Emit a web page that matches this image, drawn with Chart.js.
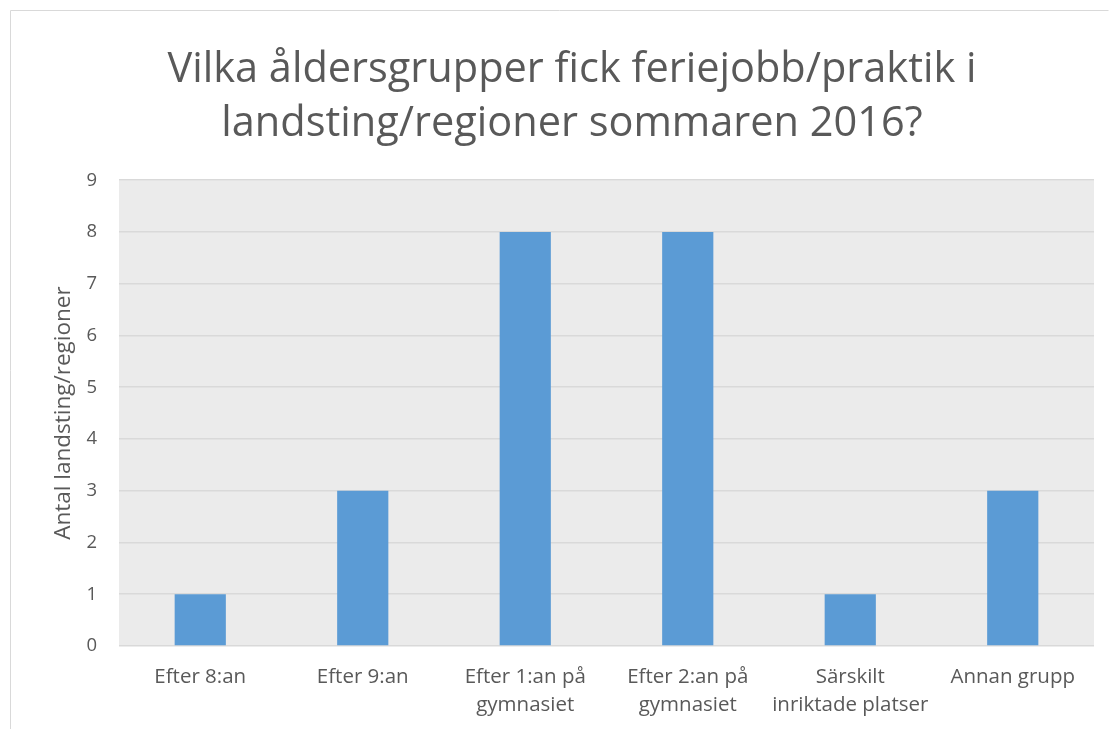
<!DOCTYPE html>
<html>
<head>
<meta charset="utf-8">
<script src="https://cdn.jsdelivr.net/npm/chart.js@4"></script>
<style>
  html, body { margin: 0; padding: 0; background: #fff; }
  #wrap { position: absolute; left: 0; top: 0; width: 1109px; height: 729px; }
</style>
</head>
<body>
<div id="wrap"><canvas id="chart"></canvas></div>
<script>
// chart data
const categories = [
    ['Efter 8:an'],
    ['Efter 9:an'],
    ['Efter 1:an på', 'gymnasiet'],
    ['Efter 2:an på', 'gymnasiet'],
    ['Särskilt', 'inriktade platser'],
    ['Annan grupp']
];
const counts = [1, 3, 8, 8, 1, 3];
const titleLines = ['Vilka åldersgrupper fick feriejobb/praktik i', 'landsting/regioner sommaren 2016?'];
const yAxisTitle = 'Antal landsting/regioner';

const FONT = '"Open Sans", "Noto Sans", sans-serif';
const GREY = '#595959';

// grey plot background + outer frame
const backdrop = {
    id: 'backdrop',
    beforeDraw(chart) {
        const { ctx, chartArea: a } = chart;
        ctx.save();
        ctx.fillStyle = '#ebebeb';
        ctx.fillRect(a.left, a.top, a.right - a.left, a.bottom - a.top);
        ctx.strokeStyle = '#d9d9d9';
        ctx.lineWidth = 1;
        ctx.beginPath();
        ctx.moveTo(10.5, 740);
        ctx.lineTo(10.5, 10.5);
        ctx.lineTo(1108.5, 10.5);
        ctx.stroke();
        ctx.restore();
    }
};

new Chart(document.getElementById('chart'), {
    type: 'bar',
    data: {
        labels: categories,
        datasets: [{
            data: counts,
            backgroundColor: '#5b9bd5',
            borderWidth: 0,
            categoryPercentage: 1,
            barPercentage: 0.315
        }]
    },
    plugins: [backdrop],
    options: {
        responsive: true,
        maintainAspectRatio: false,
        animation: false,
        layout: { padding: { left: 50, right: 15, top: 0, bottom: 0 } },
        plugins: {
            legend: { display: false },
            tooltip: { enabled: false },
            title: {
                display: true,
                text: titleLines,
                color: GREY,
                font: { family: FONT, size: 41.5, weight: 'normal', lineHeight: 1.28 },
                padding: { top: 44, bottom: 30 }
            }
        },
        scales: {
            x: {
                grid: { display: false },
                border: { display: false },
                ticks: {
                    color: GREY,
                    font: { family: FONT, size: 20.5, lineHeight: 1.33 },
                    maxRotation: 0,
                    autoSkip: false,
                    padding: 10
                },
                afterFit(scale) { scale.height = 83; }
            },
            y: {
                min: 0,
                max: 9,
                border: { display: false },
                grid: { color: '#d9d9d9', lineWidth: 1.5, drawTicks: false },
                ticks: {
                    stepSize: 1,
                    color: GREY,
                    font: { family: FONT, size: 18.5 },
                    padding: 22
                },
                title: {
                    display: true,
                    text: yAxisTitle,
                    color: GREY,
                    font: { family: FONT, size: 22.5 },
                    padding: 0
                },
                afterFit(scale) { scale.width = 69; }
            }
        }
    }
});
</script>
</body>
</html>
